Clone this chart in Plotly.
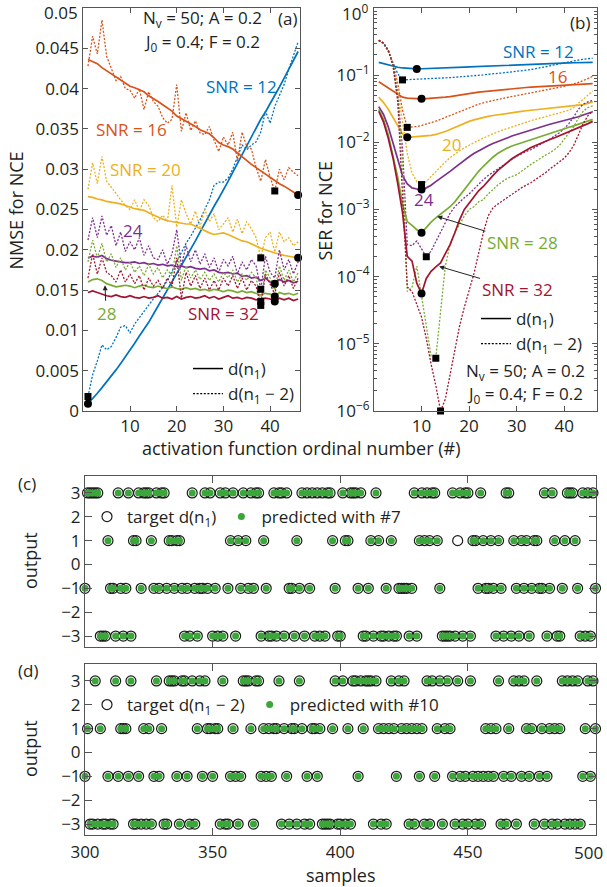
import plotly.graph_objects as go

W, H = 607, 887
FONT = "Open Sans"
TXT = "#231f20"
AX = "#555555"

# ---------------- activation-function index (panels a, b)
act_fn = list(range(1, 47))

snr_list = [12, 16, 20, 24, 28, 32]
snr_colors = ["#0072BD", "#D95319", "#EDB120", "#7E2F8E", "#77AC30", "#A2142F"]

# ---------------- NMSE for NCE, panel (a)
nmse_snr12_d1 = [0.0009, 0.0015, 0.0022, 0.0029, 0.0036, 0.0043, 0.0051, 0.0059, 0.0067, 0.0075,
                 0.0084, 0.0093, 0.0101, 0.0110, 0.0120, 0.0130, 0.0140, 0.0150, 0.0160, 0.0170,
                 0.0180, 0.0190, 0.0200, 0.0211, 0.0222, 0.0233, 0.0244, 0.0254, 0.0264, 0.0274,
                 0.0285, 0.0296, 0.0307, 0.0318, 0.0330, 0.0341, 0.0352, 0.0362, 0.0371, 0.0381,
                 0.0392, 0.0402, 0.0413, 0.0424, 0.0435, 0.0446]
nmse_snr12_d2 = [0.0018, 0.0045, 0.0062, 0.0082, 0.0076, 0.0080, 0.0091, 0.0104, 0.0106, 0.0097,
                 0.0108, 0.0116, 0.0124, 0.0131, 0.0139, 0.0146, 0.0153, 0.0162, 0.0174, 0.0186,
                 0.0198, 0.0208, 0.0217, 0.0227, 0.0237, 0.0250, 0.0262, 0.0280, 0.0284, 0.0284,
                 0.0289, 0.0300, 0.0315, 0.0330, 0.0324, 0.0330, 0.0334, 0.0346, 0.0372, 0.0357,
                 0.0378, 0.0392, 0.0405, 0.0424, 0.0440, 0.0458]
nmse_snr16_d1 = [0.0436, 0.0434, 0.0431, 0.0426, 0.0422, 0.0419, 0.0415, 0.0410, 0.0406, 0.0403,
                 0.0401, 0.0399, 0.0396, 0.0391, 0.0388, 0.0384, 0.0380, 0.0376, 0.0372, 0.0366,
                 0.0363, 0.0359, 0.0356, 0.0353, 0.0349, 0.0346, 0.0344, 0.0339, 0.0333, 0.0330,
                 0.0328, 0.0325, 0.0320, 0.0315, 0.0311, 0.0306, 0.0302, 0.0298, 0.0294, 0.0290,
                 0.0285, 0.0282, 0.0279, 0.0275, 0.0272, 0.0268]
nmse_snr16_d2 = [0.0428, 0.0465, 0.0443, 0.0485, 0.0440, 0.0425, 0.0410, 0.0415, 0.0400, 0.0398,
                 0.0388, 0.0400, 0.0374, 0.0396, 0.0384, 0.0378, 0.0364, 0.0357, 0.0362, 0.0405,
                 0.0347, 0.0370, 0.0348, 0.0360, 0.0345, 0.0343, 0.0353, 0.0336, 0.0322, 0.0340,
                 0.0330, 0.0346, 0.0310, 0.0346, 0.0328, 0.0325, 0.0302, 0.0285, 0.0312, 0.0290,
                 0.0273, 0.0300, 0.0287, 0.0302, 0.0296, 0.0292]
nmse_snr20_d1 = [0.0266, 0.0265, 0.0263, 0.0262, 0.0260, 0.0259, 0.0258, 0.0257, 0.0255, 0.0253,
                 0.0251, 0.0250, 0.0249, 0.0246, 0.0243, 0.0240, 0.0238, 0.0236, 0.0235, 0.0234,
                 0.0233, 0.0232, 0.0232, 0.0229, 0.0226, 0.0224, 0.0221, 0.0219, 0.0220, 0.0221,
                 0.0219, 0.0216, 0.0213, 0.0211, 0.0210, 0.0207, 0.0204, 0.0202, 0.0200, 0.0198,
                 0.0196, 0.0195, 0.0193, 0.0192, 0.0191, 0.0190]
nmse_snr20_d2 = [0.0275, 0.0308, 0.0282, 0.0316, 0.0285, 0.0278, 0.0270, 0.0262, 0.0255, 0.0250,
                 0.0262, 0.0248, 0.0262, 0.0255, 0.0240, 0.0235, 0.0243, 0.0235, 0.0280, 0.0228,
                 0.0262, 0.0245, 0.0232, 0.0248, 0.0228, 0.0250, 0.0235, 0.0245, 0.0225, 0.0232,
                 0.0240, 0.0222, 0.0238, 0.0220, 0.0235, 0.0226, 0.0215, 0.0190, 0.0215, 0.0222,
                 0.0197, 0.0222, 0.0210, 0.0215, 0.0205, 0.0210]
nmse_snr24_d1 = [0.0190, 0.0192, 0.0191, 0.0193, 0.0189, 0.0187, 0.0186, 0.0185, 0.0184, 0.0184,
                 0.0185, 0.0183, 0.0184, 0.0182, 0.0183, 0.0181, 0.0182, 0.0180, 0.0181, 0.0179,
                 0.0180, 0.0178, 0.0179, 0.0177, 0.0176, 0.0177, 0.0174, 0.0175, 0.0172, 0.0171,
                 0.0172, 0.0170, 0.0171, 0.0167, 0.0168, 0.0165, 0.0166, 0.0162, 0.0165, 0.0160,
                 0.0158, 0.0163, 0.0160, 0.0162, 0.0159, 0.0161]
nmse_snr24_d2 = [0.0212, 0.0240, 0.0215, 0.0242, 0.0218, 0.0230, 0.0205, 0.0222, 0.0198, 0.0210,
                 0.0200, 0.0215, 0.0193, 0.0205, 0.0190, 0.0188, 0.0200, 0.0182, 0.0195, 0.0225,
                 0.0180, 0.0205, 0.0185, 0.0200, 0.0182, 0.0195, 0.0178, 0.0190, 0.0172, 0.0188,
                 0.0180, 0.0192, 0.0170, 0.0185, 0.0175, 0.0188, 0.0180, 0.0151, 0.0192, 0.0172,
                 0.0165, 0.0200, 0.0175, 0.0188, 0.0170, 0.0185]
nmse_snr28_d1 = [0.0160, 0.0163, 0.0164, 0.0162, 0.0158, 0.0156, 0.0154, 0.0155, 0.0156, 0.0155,
                 0.0153, 0.0155, 0.0156, 0.0154, 0.0153, 0.0155, 0.0153, 0.0152, 0.0154, 0.0152,
                 0.0151, 0.0153, 0.0151, 0.0152, 0.0150, 0.0151, 0.0149, 0.0151, 0.0150, 0.0148,
                 0.0150, 0.0149, 0.0147, 0.0149, 0.0147, 0.0148, 0.0146, 0.0144, 0.0146, 0.0145,
                 0.0142, 0.0147, 0.0145, 0.0146, 0.0144, 0.0146]
nmse_snr28_d2 = [0.0185, 0.0212, 0.0190, 0.0208, 0.0185, 0.0195, 0.0178, 0.0190, 0.0175, 0.0185,
                 0.0172, 0.0180, 0.0168, 0.0182, 0.0170, 0.0178, 0.0165, 0.0175, 0.0168, 0.0205,
                 0.0162, 0.0180, 0.0165, 0.0175, 0.0163, 0.0172, 0.0162, 0.0170, 0.0160, 0.0172,
                 0.0165, 0.0175, 0.0160, 0.0170, 0.0162, 0.0172, 0.0165, 0.0136, 0.0175, 0.0165,
                 0.0150, 0.0180, 0.0162, 0.0175, 0.0160, 0.0172]
nmse_snr32_d1 = [0.0147, 0.0149, 0.0147, 0.0145, 0.0143, 0.0142, 0.0144, 0.0142, 0.0141, 0.0143,
                 0.0141, 0.0140, 0.0142, 0.0140, 0.0141, 0.0143, 0.0140, 0.0141, 0.0139, 0.0142,
                 0.0139, 0.0141, 0.0142, 0.0140, 0.0141, 0.0143, 0.0140, 0.0142, 0.0139, 0.0141,
                 0.0143, 0.0140, 0.0141, 0.0139, 0.0141, 0.0140, 0.0138, 0.0139, 0.0140, 0.0139,
                 0.0136, 0.0140, 0.0138, 0.0140, 0.0137, 0.0139]
nmse_snr32_d2 = [0.0165, 0.0195, 0.0170, 0.0190, 0.0172, 0.0168, 0.0160, 0.0175, 0.0160, 0.0170,
                 0.0158, 0.0168, 0.0150, 0.0165, 0.0155, 0.0162, 0.0152, 0.0165, 0.0155, 0.0190,
                 0.0140, 0.0172, 0.0155, 0.0168, 0.0152, 0.0165, 0.0150, 0.0162, 0.0150, 0.0165,
                 0.0155, 0.0168, 0.0152, 0.0165, 0.0150, 0.0162, 0.0155, 0.0131, 0.0170, 0.0158,
                 0.0145, 0.0172, 0.0155, 0.0168, 0.0152, 0.0165]

# ---------------- SER for NCE, panel (b)
ser_snr12_d1 = [0.155, 0.148, 0.141, 0.135, 0.131, 0.128, 0.126, 0.125, 0.124, 0.1245,
                0.125, 0.1255, 0.126, 0.127, 0.128, 0.129, 0.130, 0.131, 0.132, 0.133,
                0.134, 0.135, 0.136, 0.137, 0.138, 0.139, 0.140, 0.141, 0.142, 0.143,
                0.144, 0.145, 0.146, 0.147, 0.148, 0.149, 0.150, 0.150, 0.151, 0.152,
                0.152, 0.153, 0.153, 0.154, 0.154, 0.155]
ser_snr12_d2 = [0.330, 0.295, 0.225, 0.155, 0.105, 0.085, 0.0855, 0.086, 0.0865, 0.087,
                0.0875, 0.088, 0.089, 0.090, 0.091, 0.092, 0.093, 0.094, 0.095, 0.097,
                0.098, 0.099, 0.101, 0.103, 0.104, 0.106, 0.108, 0.110, 0.112, 0.113,
                0.115, 0.118, 0.121, 0.125, 0.128, 0.133, 0.138, 0.143, 0.148, 0.153,
                0.158, 0.163, 0.168, 0.172, 0.176, 0.179]
ser_snr16_d1 = [0.080, 0.072, 0.064, 0.057, 0.051, 0.047, 0.0455, 0.045, 0.0447, 0.0445,
                0.0447, 0.0450, 0.0455, 0.0462, 0.047, 0.048, 0.049, 0.050, 0.0515, 0.053,
                0.0545, 0.056, 0.057, 0.058, 0.059, 0.060, 0.061, 0.062, 0.063, 0.064,
                0.0648, 0.0655, 0.0662, 0.0668, 0.0674, 0.068, 0.0686, 0.0692, 0.0697, 0.0702,
                0.0708, 0.0716, 0.0724, 0.0732, 0.0740, 0.0748]
ser_snr16_d2 = [0.330, 0.300, 0.235, 0.150, 0.075, 0.030, 0.0167, 0.0168, 0.0172, 0.0178,
                0.0186, 0.0195, 0.0207, 0.0220, 0.0235, 0.0252, 0.0270, 0.0290, 0.0310, 0.0330,
                0.0350, 0.0370, 0.0388, 0.0405, 0.0420, 0.0435, 0.0450, 0.0465, 0.0480, 0.0495,
                0.0510, 0.0525, 0.0540, 0.0556, 0.0572, 0.0590, 0.0610, 0.0632, 0.0656, 0.0682,
                0.0710, 0.0740, 0.0780, 0.0830, 0.0890, 0.0960]
ser_snr20_d1 = [0.047, 0.039, 0.031, 0.023, 0.017, 0.0133, 0.0119, 0.0120, 0.0121, 0.0122,
                0.0124, 0.0127, 0.0131, 0.0137, 0.0145, 0.0155, 0.0167, 0.0180, 0.0193, 0.0205,
                0.0216, 0.0226, 0.0235, 0.0243, 0.0251, 0.0258, 0.0265, 0.0271, 0.0277, 0.0283,
                0.0289, 0.0295, 0.0300, 0.0305, 0.0310, 0.0315, 0.0320, 0.0325, 0.0330, 0.0335,
                0.0341, 0.0347, 0.0354, 0.0365, 0.0380, 0.0400]
ser_snr20_d2 = [0.330, 0.300, 0.235, 0.140, 0.060, 0.020, 0.0068, 0.0035, 0.0026, 0.00235,
                0.0026, 0.0031, 0.0037, 0.0044, 0.0051, 0.0059, 0.0067, 0.0075, 0.0083, 0.0091,
                0.0099, 0.0107, 0.0116, 0.0125, 0.0134, 0.0143, 0.0152, 0.0161, 0.0170, 0.0180,
                0.0190, 0.0200, 0.0210, 0.0220, 0.0230, 0.0240, 0.0250, 0.0260, 0.0272, 0.0285,
                0.0300, 0.0330, 0.0380, 0.0450, 0.0520, 0.0580]
ser_snr24_d1 = [0.034, 0.026, 0.017, 0.0095, 0.0055, 0.0032, 0.0024, 0.0021, 0.00202, 0.00198,
                0.0021, 0.0023, 0.0026, 0.0029, 0.0033, 0.0037, 0.0042, 0.0048, 0.0054, 0.0061,
                0.0068, 0.0075, 0.0082, 0.0089, 0.0096, 0.0103, 0.0110, 0.0117, 0.0124, 0.0131,
                0.0138, 0.0145, 0.0152, 0.0162, 0.0170, 0.0178, 0.0186, 0.0194, 0.0202, 0.0210,
                0.0219, 0.0229, 0.0240, 0.0255, 0.0270, 0.0285]
ser_snr24_d2 = [0.330, 0.300, 0.235, 0.140, 0.050, 0.008, 0.00030, 0.00029, 0.00034, 0.00026,
                0.000198, 0.00024, 0.00033, 0.00045, 0.00062, 0.00088, 0.00110, 0.00130, 0.00150, 0.00170,
                0.00200, 0.00240, 0.00280, 0.00320, 0.00360, 0.00400, 0.00450, 0.00500, 0.00560, 0.00620,
                0.00680, 0.00730, 0.00780, 0.00850, 0.00930, 0.01020, 0.01120, 0.01250, 0.01390, 0.01600,
                0.01900, 0.02400, 0.03100, 0.03700, 0.04000, 0.04200]
ser_snr28_d1 = [0.031, 0.022, 0.013, 0.0065, 0.0030, 0.0012, 0.00066, 0.00058, 0.00050, 0.00045,
                0.00055, 0.00065, 0.00075, 0.00085, 0.00095, 0.0011, 0.0013, 0.0016, 0.0020, 0.0024,
                0.0030, 0.0037, 0.0044, 0.0052, 0.0060, 0.0068, 0.0075, 0.0082, 0.0088, 0.0093,
                0.0099, 0.0105, 0.0110, 0.0117, 0.0123, 0.0130, 0.0138, 0.0145, 0.0152, 0.0160,
                0.0168, 0.0176, 0.0185, 0.0194, 0.0205, 0.0220]
ser_snr28_d2 = [0.330, 0.300, 0.235, 0.140, 0.045, 0.005, 0.00006, 0.00007, 0.000144, 0.000055,
                0.0000185, 0.0000066, 0.0000061, 0.00003, 0.000144, 0.0003, 0.00045, 0.0006, 0.0008, 0.0010,
                0.0011, 0.0013, 0.0014, 0.0017, 0.0020, 0.0023, 0.0026, 0.0029, 0.0031, 0.0033,
                0.0037, 0.0042, 0.0047, 0.0052, 0.0058, 0.0064, 0.0070, 0.0078, 0.0090, 0.0110,
                0.0135, 0.0170, 0.0230, 0.0290, 0.0330, 0.0350]
ser_snr32_d1 = [0.029, 0.020, 0.0115, 0.0058, 0.0024, 0.0009, 0.00020, 0.00017, 0.00008, 0.000056,
                0.000094, 0.00012, 0.00014, 0.00016, 0.00022, 0.00030, 0.00045, 0.00070, 0.00100, 0.00125,
                0.00155, 0.0019, 0.0022, 0.0027, 0.0032, 0.0038, 0.0044, 0.0050, 0.0057, 0.0063,
                0.0070, 0.0077, 0.0084, 0.0090, 0.0097, 0.0103, 0.0110, 0.0117, 0.0125, 0.0135,
                0.0145, 0.0155, 0.0165, 0.0175, 0.0190, 0.0205]
ser_snr32_d2 = [0.330, 0.300, 0.235, 0.140, 0.040, 0.0015, 0.00007, 0.00006, 0.00004, 0.000025,
                0.000012, 0.000005, 0.0000024, 0.0000010, 0.0000015, 0.0000035, 0.000008, 0.0000185, 0.000035, 0.00006,
                0.00011, 0.00022, 0.00045, 0.00080, 0.00105, 0.0012, 0.00135, 0.0015, 0.0017, 0.0019,
                0.0021, 0.0023, 0.0025, 0.0028, 0.0031, 0.0035, 0.0040, 0.0045, 0.0051, 0.0058,
                0.0070, 0.0090, 0.0130, 0.0190, 0.0250, 0.0290]

# ---------------- symbol sequences, panels (c) and (d)
samples = list(range(300, 501))
target_c = [-1, 3, 3, 3, 3, 3, -3, -3, -3, 1,
            -1, -1, -3, 3, -1, -3, -1, 3, -3, 1,
            1, 3, -1, 3, 3, 3, 1, -1, 3, -1,
            3, 3, -1, 1, 1, -1, 1, 1, -1, -3,
            -1, -3, 3, -1, -3, -1, -1, 3, -1, 3,
            -3, -1, -3, 3, -3, 3, -1, 1, 3, -3,
            1, -1, 3, 1, -1, 3, -1, 3, 3, -3,
            1, -1, -3, -3, 3, -3, 3, 3, -3, 3,
            -1, -1, -3, 1, -1, 3, -3, 3, -1, 3,
            -3, 3, -3, 3, -3, 3, 3, 1, -1, -3,
            -3, 3, 1, 1, 3, 3, 3, -1, 3, -3,
            -3, -1, 1, -3, 3, 1, -3, -3, -1, -3,
            1, -3, -3, -1, -1, -1, -1, -3, -1, 3,
            -3, 1, 3, 1, 3, 1, 3, 3, 1, -1,
            -3, -3, -3, -3, 3, -3, 1, 3, -3, 3,
            3, -3, 1, 1, -1, 3, 1, -1, -1, 1,
            -1, -3, 1, -1, -3, 3, 3, -3, 1, -1,
            -3, 1, -1, 1, -3, -1, 1, 1, -1, -1,
            3, -3, -1, 3, 1, -3, -3, -1, 1, 3,
            3, 3, 1, -1, -3, 3, -3, 3, -3, 3,
            -1]
# decisions of the #7 equaliser that differ from the target (sample: decided level)
pred_c_errors = {446: 3}
pred_c = [pred_c_errors.get(n, t) for n, t in zip(samples, target_c)]

target_d = [-1, 1, -3, -3, 3, -3, 1, -3, -3, -1,
            -3, -3, 3, -1, 1, 1, 1, -1, 3, -3,
            -3, -1, -3, 1, -3, 1, -3, -1, 3, -1,
            1, -3, -3, 3, 3, 3, -1, -3, 3, 3,
            -1, -3, 3, -3, 1, 3, -1, 3, 1, 1,
            -1, 1, 1, -3, 3, -3, -3, -1, 1, -1,
            -3, -1, 3, 3, 3, 1, -3, 3, 3, -1,
            1, -1, 1, -1, 1, 1, 3, -3, 1, -1,
            -3, 1, 1, -3, 3, 1, -3, -1, -3, 1,
            1, -1, 1, -3, -3, -3, -3, 1, 3, -3,
            -3, 3, -3, 1, -3, 3, 3, -1, 3, 1,
            3, 3, 3, -3, 3, 1, -3, 1, -3, 1,
            3, 1, -1, 3, 1, 3, 1, -3, 1, -3,
            1, -1, 1, -3, 3, -3, 3, -1, 1, 3,
            -3, 1, 3, 1, -1, -3, 3, -1, -3, -1,
            -3, 3, -1, -3, -1, -3, -1, 1, -1, 1,
            -1, 1, 3, -3, -1, -3, 1, -1, 3, -3,
            3, -1, 3, 1, -1, 1, -3, 3, -1, 1,
            -3, -1, 1, -3, 1, -3, 1, 3, -3, 3,
            -3, 3, -3, 3, -3, -1, 1, 3, -1, 3,
            1]
# the #10 equaliser recovers every symbol in this window
pred_d = list(target_d)

nmse_d1 = [nmse_snr12_d1, nmse_snr16_d1, nmse_snr20_d1, nmse_snr24_d1, nmse_snr28_d1, nmse_snr32_d1]
nmse_d2 = [nmse_snr12_d2, nmse_snr16_d2, nmse_snr20_d2, nmse_snr24_d2, nmse_snr28_d2, nmse_snr32_d2]
ser_d1 = [ser_snr12_d1, ser_snr16_d1, ser_snr20_d1, ser_snr24_d1, ser_snr28_d1, ser_snr32_d1]
ser_d2 = [ser_snr12_d2, ser_snr16_d2, ser_snr20_d2, ser_snr24_d2, ser_snr28_d2, ser_snr32_d2]

# tick labels
nmse_ticks = [0, 0.005, 0.01, 0.015, 0.02, 0.025, 0.03, 0.035, 0.04, 0.045, 0.05]
nmse_ticktext = ["0", "0.005", "0.01", "0.015", "0.02", "0.025", "0.03", "0.035", "0.04", "0.045", "0.05"]
ser_ticks = [1, 1e-1, 1e-2, 1e-3, 1e-4, 1e-5, 1e-6]
ser_ticktext = ["10<sup>0</sup>", "10<sup>\u22121</sup>", "10<sup>\u22122</sup>", "10<sup>\u22123</sup>",
                "10<sup>\u22124</sup>", "10<sup>\u22125</sup>", "10<sup>\u22126</sup>"]
sample_ticks = [300, 350, 400, 450, 500]
sample_ticktext = ["300", "350", "400", "450", "500"]
levels = [-3, -2, -1, 0, 1, 2, 3]


def best_point(values):
    i = min(range(len(values)), key=values.__getitem__)
    return act_fn[i], values[i]


def xdom(p0, p1):
    return [p0 / W, p1 / W]


def ydom(top, bottom):
    return [1 - bottom / H, 1 - top / H]


DOT = "2px,1.6px"
fig = go.Figure()

# ---- curves for panels (a) and (b)
for xa, ya, d1_set, d2_set in (("x", "y", nmse_d1, nmse_d2), ("x2", "y2", ser_d1, ser_d2)):
    cx, cy, sx, sy = [], [], [], []
    for col, y1, y2 in zip(snr_colors, d1_set, d2_set):
        fig.add_trace(go.Scatter(x=act_fn, y=y2, mode="lines", xaxis=xa, yaxis=ya,
                                 line=dict(color=col, width=1.3, dash=DOT), showlegend=False))
        fig.add_trace(go.Scatter(x=act_fn, y=y1, mode="lines", xaxis=xa, yaxis=ya,
                                 line=dict(color=col, width=1.7), showlegend=False))
        px_, py_ = best_point(y1)
        cx.append(px_); cy.append(py_)
        qx_, qy_ = best_point(y2)
        sx.append(qx_); sy.append(qy_)
    fig.add_trace(go.Scatter(x=sx, y=sy, mode="markers", xaxis=xa, yaxis=ya, cliponaxis=False,
                             marker=dict(symbol="square", size=7, color="black"), showlegend=False))
    fig.add_trace(go.Scatter(x=cx, y=cy, mode="markers", xaxis=xa, yaxis=ya, cliponaxis=False,
                             marker=dict(symbol="circle", size=8, color="black"), showlegend=False))

# legend keys for the two decision targets
for lg in ("legend", "legend2"):
    xa, ya = ("x", "y") if lg == "legend" else ("x2", "y2")
    fig.add_trace(go.Scatter(x=[None], y=[None], mode="lines", xaxis=xa, yaxis=ya, legend=lg,
                             line=dict(color="black", width=1.5), name="d(n<sub>1</sub>)"))
    fig.add_trace(go.Scatter(x=[None], y=[None], mode="lines", xaxis=xa, yaxis=ya, legend=lg,
                             line=dict(color="black", width=1.3, dash=DOT),
                             name="d(n<sub>1</sub> \u2212 2)"))

# ---- symbol panels (c) and (d)
GREEN = "#3BA63A"
for xa, ya, lg, tgt, prd, tname, pname in (
        ("x3", "y3", "legend3", target_c, pred_c, "target d(n<sub>1</sub>)", "predicted with #7"),
        ("x4", "y4", "legend4", target_d, pred_d, "target d(n<sub>1</sub> \u2212 2)", "predicted with #10")):
    fig.add_trace(go.Scatter(x=samples, y=tgt, mode="markers", xaxis=xa, yaxis=ya, legend=lg,
                             cliponaxis=False, name=tname,
                             marker=dict(symbol="circle-open", size=10, color="#1a1a1a",
                                         line=dict(width=1.2))))
    fig.add_trace(go.Scatter(x=samples, y=prd, mode="markers", xaxis=xa, yaxis=ya, legend=lg,
                             cliponaxis=False, name=pname,
                             marker=dict(symbol="circle", size=7, color=GREEN)))

axis_common = dict(showline=True, linecolor=AX, linewidth=1, mirror="ticks", ticks="inside",
                   ticklen=5, tickwidth=1, tickcolor=AX, showgrid=False, zeroline=False,
                   automargin=False, ticklabeloverflow="allow",
                   tickfont=dict(family=FONT, size=17, color=TXT))
axis_long = {**axis_common, "ticklen": 7}

# minor ticks at 2..9 within every decade of the SER axis
ser_minor = [m * 10.0 ** e for e in range(-6, 0) for m in range(2, 10)]
leg_font = dict(family=FONT, size=17, color=TXT)

# tick labels that sit on a figure edge are drawn separately, nudged inside the page
fig.update_layout(
    width=W, height=H, margin=dict(l=0, r=0, t=0, b=0, autoexpand=False),
    paper_bgcolor="white", plot_bgcolor="white",
    font=dict(family=FONT, size=17, color=TXT),
    xaxis=dict(domain=xdom(83.3, 300), range=[0, 46.4], tickvals=[10, 20, 30, 40], anchor="y", **axis_common),
    yaxis=dict(domain=ydom(8, 411), range=[0, 0.05], tickvals=nmse_ticks,
               ticktext=nmse_ticktext[:-1] + [""], anchor="x", **axis_common),
    xaxis2=dict(domain=xdom(374, 596.5), range=[0, 46.8], tickvals=[10, 20, 30, 40], anchor="y2", **axis_common),
    yaxis2=dict(domain=ydom(8, 411), type="log", range=[-6, 0], tickvals=ser_ticks,
                ticktext=[""] + ser_ticktext[1:],
                minor=dict(tickmode="array", tickvals=ser_minor, ticks="inside", ticklen=3,
                           tickcolor=AX, showgrid=False),
                anchor="x2", **axis_common),
    xaxis3=dict(domain=xdom(85, 595.5), range=[300, 500], tickvals=[350, 400, 450], showticklabels=False,
                anchor="y3", **axis_long),
    yaxis3=dict(domain=ydom(476, 647), range=[-3.46, 3.71], tickvals=levels, anchor="x3", **axis_long),
    xaxis4=dict(domain=xdom(85, 595.5), range=[300, 500], tickvals=sample_ticks,
                ticktext=sample_ticktext[:-1] + [""],
                ticklabelstandoff=2, anchor="y4", **axis_long),
    yaxis4=dict(domain=ydom(664, 835), range=[-3.46, 3.71], tickvals=levels, anchor="x4", **axis_long),
    legend=dict(x=188 / W, y=1 - 351 / H, xanchor="left", yanchor="top", bgcolor="rgba(0,0,0,0)",
                font=leg_font, tracegroupgap=0, itemwidth=30),
    legend2=dict(x=476 / W, y=1 - 301 / H, xanchor="left", yanchor="top", bgcolor="rgba(0,0,0,0)",
                 font=leg_font, tracegroupgap=0, itemwidth=30),
    legend3=dict(orientation="h", x=87 / W, y=1 - 517 / H, xanchor="left", yanchor="middle",
                 bgcolor="rgba(0,0,0,0)", font=leg_font, itemwidth=30),
    legend4=dict(orientation="h", x=87 / W, y=1 - 705 / H, xanchor="left", yanchor="middle",
                 bgcolor="rgba(0,0,0,0)", font=leg_font, itemwidth=30),
)

ann = []


def label(text, x, y, xref, yref, color=TXT, size=17, xanchor="center", **kw):
    ann.append(dict(text=text, x=x, y=y, xref=xref, yref=yref, showarrow=False,
                    xanchor=xanchor, yanchor="middle",
                    font=dict(family=FONT, size=size, color=color), **kw))


# edge tick labels
label(nmse_ticktext[-1], 79.5 / W, 1 - 13 / H, "paper", "paper", xanchor="right")
label(ser_ticktext[0], 370 / W, 1 - 13 / H, "paper", "paper", xanchor="right")
label(sample_ticktext[-1], 605 / W, 1 - 852 / H, "paper", "paper", xanchor="right")

# panel (a) labels
label("N<sub>v</sub> = 50; A = 0.2", 25.6, 0.04874, "x", "y")
label("J<sub>0</sub> = 0.4; F = 0.2", 25.4, 0.04573, "x", "y")
label("(a)", 43.8, 0.04874, "x", "y")
label("SNR = 12", 33.8, 0.0403, "x", "y", snr_colors[0])
label("SNR = 16", 10.4, 0.0349, "x", "y", snr_colors[1])
label("SNR = 20", 13.4, 0.0300, "x", "y", snr_colors[2])
label("24", 10.7, 0.02236, "x", "y", snr_colors[3])
label("SNR = 32", 30.0, 0.01206, "x", "y", snr_colors[5])
ann.append(dict(text="28", x=4.65, y=0.0156, xref="x", yref="y", ax=4.9, ay=0.01206,
                axref="x", ayref="y", showarrow=True, arrowhead=2, arrowsize=1, arrowwidth=1,
                arrowcolor="#222", font=dict(family=FONT, size=17, color=snr_colors[4])))

# panel (b) labels (log axis: y given as exponent)
label("(b)", 43.4, -0.223, "x2", "y2")
label("SNR = 12", 34.7, -0.654, "x2", "y2", snr_colors[0])
label("16", 38.5, -1.025, "x2", "y2", snr_colors[1])
label("20", 16.2, -2.035, "x2", "y2", snr_colors[2])
label("24", 10.5, -2.852, "x2", "y2", snr_colors[3])
ann.append(dict(text="SNR = 28", x=13.3, y=-3.104, xref="x2", yref="y2", ax=31.2, ay=-3.49,
                axref="x2", ayref="y2", showarrow=True, arrowhead=2, arrowsize=1, arrowwidth=1,
                arrowcolor="#222", font=dict(family=FONT, size=17, color=snr_colors[4])))
ann.append(dict(text="SNR = 32", x=13.7, y=-3.847, xref="x2", yref="y2", ax=30.1, ay=-4.188,
                axref="x2", ayref="y2", showarrow=True, arrowhead=2, arrowsize=1, arrowwidth=1,
                arrowcolor="#222", font=dict(family=FONT, size=17, color=snr_colors[5])))
label("N<sub>v</sub> = 50; A = 0.2", 31.8, -5.406, "x2", "y2")
label("J<sub>0</sub> = 0.4; F = 0.2", 31.8, -5.748, "x2", "y2")

# axis titles and panel tags
label("NMSE for NCE", 15.5 / W, 1 - 211 / H, "paper", "paper", size=18, textangle=-90)
label("SER for NCE", 324.5 / W, 1 - 211 / H, "paper", "paper", size=18, textangle=-90)
label("activation function ordinal number (#)", 301 / W, 1 - 448 / H, "paper", "paper", size=18)
label("output", 30 / W, 1 - 561 / H, "paper", "paper", size=18, textangle=-90)
label("output", 30 / W, 1 - 749 / H, "paper", "paper", size=18, textangle=-90)
label("samples", 341 / W, 1 - 875 / H, "paper", "paper", size=18)
label("(c)", 27 / W, 1 - 483 / H, "paper", "paper")
label("(d)", 28 / W, 1 - 670 / H, "paper", "paper")

fig.update_layout(annotations=ann)
fig.write_html("out.html", config={"displayModeBar": False})
